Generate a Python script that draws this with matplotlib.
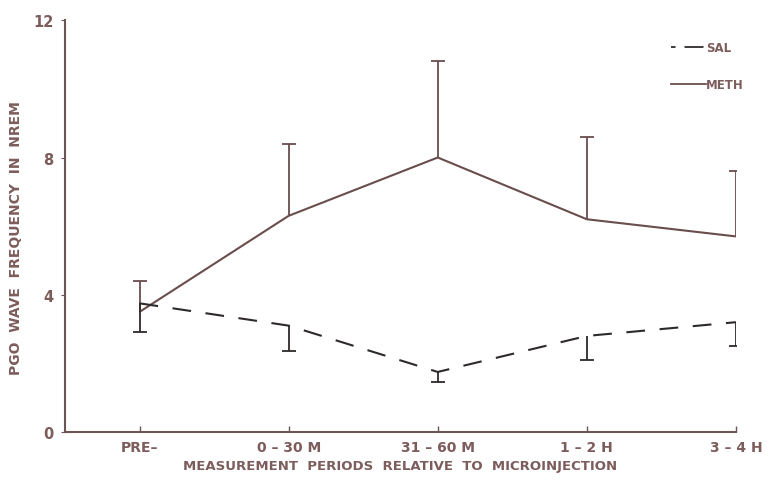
import matplotlib
matplotlib.use("Agg")
import matplotlib.pyplot as plt
from matplotlib.lines import Line2D

periods = ["PRE\u2013", "0 \u2013 30 M", "31 \u2013 60 M", "1 \u2013 2 H", "3 \u2013 4 H"]
meth_mean = [3.5, 6.3, 8.0, 6.2, 5.7]
meth_err_up = [0.9, 2.1, 2.8, 2.4, 1.9]
sal_mean = [3.75, 3.1, 1.75, 2.8, 3.2]
sal_err_down = [0.85, 0.75, 0.3, 0.7, 0.7]

text_col = "#7d5c5c"
axis_col = "#6e5555"
meth_col = "#6a4d4d"
sal_col = "#2e2a2a"

plt.rcParams["font.family"] = ["DejaVu Sans"]

fig = plt.figure(figsize=(7.69, 4.81), dpi=100)
ax = fig.add_axes([0.0845, 0.0998, 0.8725, 0.856])

x = list(range(len(periods)))

# METH: solid line with upward error bars, cap only at the far end
ax.plot(x, meth_mean, color=meth_col, lw=1.5, solid_capstyle="butt")
meth_top = [m + e for m, e in zip(meth_mean, meth_err_up)]
ax.vlines(x, meth_mean, meth_top, color=meth_col, lw=1.3)
ax.plot(x, meth_top, ls="none", marker="_", ms=10, mew=1.3, color=meth_col)

# SAL: dashed line with downward error bars
ax.plot(x, sal_mean, color=sal_col, lw=1.5, dashes=(9, 7))
sal_bot = [m - e for m, e in zip(sal_mean, sal_err_down)]
ax.vlines(x, sal_bot, sal_mean, color=sal_col, lw=1.3)
ax.plot(x, sal_bot, ls="none", marker="_", ms=10, mew=1.3, color=sal_col)

ax.set_xlim(-0.5, 4.0)
ax.set_ylim(0, 12)
ax.set_yticks([0, 4, 8, 12])
ax.set_xticks(x)
ax.set_xticklabels(periods)

for side in ("top", "right"):
    ax.spines[side].set_visible(False)
for side in ("left", "bottom"):
    ax.spines[side].set_color(axis_col)
    ax.spines[side].set_linewidth(1.5)

ax.tick_params(axis="x", direction="in", length=4, width=1, colors=axis_col,
               labelcolor=text_col, labelsize=10, pad=6)
ax.tick_params(axis="y", direction="out", length=3, width=0.8, colors=axis_col,
               labelcolor=text_col, labelsize=10.5, pad=5)
for lab in ax.get_xticklabels() + ax.get_yticklabels():
    lab.set_fontweight("bold")

ax.set_xlabel("MEASUREMENT  PERIODS  RELATIVE  TO  MICROINJECTION",
              color=text_col, fontsize=9.5, fontweight="bold")
ax.xaxis.set_label_coords(0.5, -0.065)
ax.set_ylabel("PGO  WAVE  FREQUENCY  IN  NREM", color=text_col,
              fontsize=10, fontweight="bold")
ax.yaxis.set_label_coords(-0.062, 0.474)

handles = [Line2D([], [], color=sal_col, lw=1.3, dashes=(2.5, 5, 8, 0)),
           Line2D([], [], color=meth_col, lw=1.3)]
leg = ax.legend(handles, ["SAL", "METH"], loc="upper left",
                bbox_to_anchor=(0.887, 0.975), frameon=False, handlelength=3.0,
                handletextpad=0.0, labelspacing=2.0, fontsize=8.5)
for t in leg.get_texts():
    t.set_color(text_col)
    t.set_fontweight("bold")

fig.savefig("out.png", dpi=100, facecolor="white")
